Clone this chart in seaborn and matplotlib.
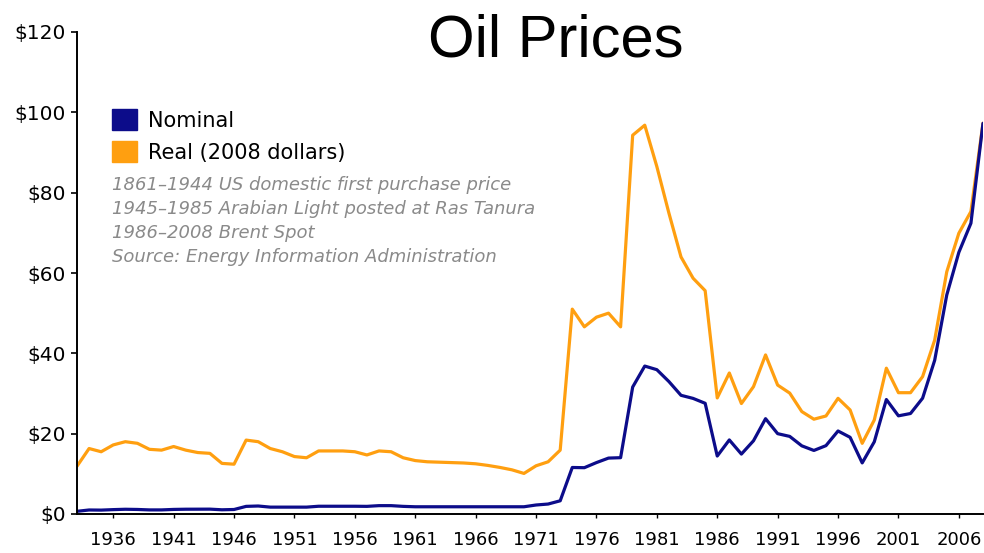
import matplotlib
matplotlib.use("Agg")
import matplotlib.pyplot as plt
from matplotlib.patches import Patch
import seaborn as sns
import pandas as pd

YEAR_F = 'year'
PRICE_F = 'price'
SERIES_F = 'series'

years = list(range(1933, 2009))

nominal = [0.67, 1.00, 0.97, 1.09, 1.18, 1.13, 1.02, 1.02, 1.14, 1.19,
           1.20, 1.21, 1.05, 1.12, 1.90, 1.99, 1.71, 1.71, 1.71, 1.71,
           1.93, 1.93, 1.93, 1.93, 1.90, 2.08, 2.08, 1.90, 1.80, 1.80,
           1.80, 1.80, 1.80, 1.80, 1.80, 1.80, 1.80, 1.80, 2.24, 2.48,
           3.29, 11.58, 11.53, 12.80, 13.92, 14.02, 31.61, 36.83, 35.93, 32.97,
           29.55, 28.78, 27.56, 14.43, 18.44, 14.92, 18.23, 23.73, 20.00, 19.32,
           16.97, 15.82, 17.02, 20.67, 19.09, 12.72, 17.97, 28.50, 24.44, 25.02,
           28.83, 38.27, 54.52, 65.14, 72.39, 97.26]

real = [11.9, 16.3, 15.5, 17.2, 18.0, 17.6, 16.1, 15.9, 16.8, 15.9,
        15.3, 15.1, 12.6, 12.4, 18.4, 18.0, 16.3, 15.5, 14.3, 14.0,
        15.7, 15.7, 15.7, 15.5, 14.7, 15.7, 15.5, 14.0, 13.3, 13.0,
        12.9, 12.8, 12.7, 12.5, 12.1, 11.6, 11.0, 10.1, 12.0, 13.0,
        15.9, 51.0, 46.6, 49.0, 50.0, 46.6, 94.3, 96.8, 86.5, 74.9,
        64.0, 58.7, 55.6, 28.9, 35.1, 27.5, 31.7, 39.6, 32.1, 30.1,
        25.5, 23.6, 24.4, 28.8, 25.9, 17.6, 23.4, 36.3, 30.2, 30.2,
        34.2, 43.3, 60.3, 69.9, 75.3, 97.3]

series_names = ['Nominal', 'Real (2008 dollars)']
colors = {'Nominal': '#0c0c8a', 'Real (2008 dollars)': '#ff9f10'}

notes = ['1861\u20131944 US domestic first purchase price',
         '1945\u20131985 Arabian Light posted at Ras Tanura',
         '1986\u20132008 Brent Spot',
         'Source: Energy Information Administration']

xticks = list(range(1936, 2007, 5))
yticks = [0, 20, 40, 60, 80, 100, 120]


def build_frame():
    data = {YEAR_F: [], PRICE_F: [], SERIES_F: []}
    for name, vals in zip(series_names, [nominal, real]):
        data[YEAR_F] += years
        data[PRICE_F] += vals
        data[SERIES_F] += [name] * len(vals)
    return pd.DataFrame(data)


def plot_prices():
    sns.set_style("white")
    plt.rcParams['font.family'] = ['DejaVu Sans']
    plt.rcParams['text.color'] = 'black'
    plt.rcParams['xtick.color'] = 'black'
    plt.rcParams['ytick.color'] = 'black'
    df = build_frame()

    fig = plt.figure(figsize=(9.84, 5.53), dpi=100)
    ax = fig.add_axes([77 / 984, 1 - 514 / 553, 906 / 984, 482 / 553])

    # real first so nominal sits on top at the end
    sns.lineplot(x=YEAR_F, y=PRICE_F, hue=SERIES_F, data=df,
                 hue_order=series_names[::-1], palette=colors,
                 linewidth=2.3, legend=False, ax=ax)

    ax.set_xlim(1933, 2008)
    ax.set_ylim(0, 120)
    ax.set_xticks(xticks)
    ax.set_yticks(yticks)
    ax.set_yticklabels([f'${v}' for v in yticks])
    ax.set_xlabel('')
    ax.set_ylabel('')
    ax.tick_params(axis='y', labelsize=14.5, length=4, width=1.2, pad=4, direction='out',
                   left=True, colors='black')
    ax.tick_params(axis='x', labelsize=13, length=3, width=1, pad=9, direction='out',
                   bottom=True, colors='black')
    sns.despine(ax=ax)
    for s in ['left', 'bottom']:
        ax.spines[s].set_color('black')
        ax.spines[s].set_linewidth(1.4)

    fig.text(556 / 984, 1 - 41 / 553, 'Oil Prices', fontsize=43, color='black',
             family='Liberation Sans', ha='center', va='center')

    handles = [Patch(facecolor=colors[n], edgecolor=colors[n]) for n in series_names]
    leg = ax.legend(handles, series_names, loc='upper left', bbox_to_anchor=(35 / 906, 1 - 77 / 482),
                    frameon=False, fontsize=15, handlelength=1.2, handleheight=1.2,
                    handletextpad=0.55, labelspacing=0.5, borderaxespad=0, borderpad=0)
    for t in leg.get_texts():
        t.set_color('black')

    for i, line in enumerate(notes):
        fig.text(112 / 984, 1 - (185 + 24 * i) / 553, line, fontsize=13,
                 style='italic', color='#8a8a8a', ha='left', va='center')

    fig.savefig('out.png', dpi=100)


if __name__ == "__main__":
    plot_prices()
